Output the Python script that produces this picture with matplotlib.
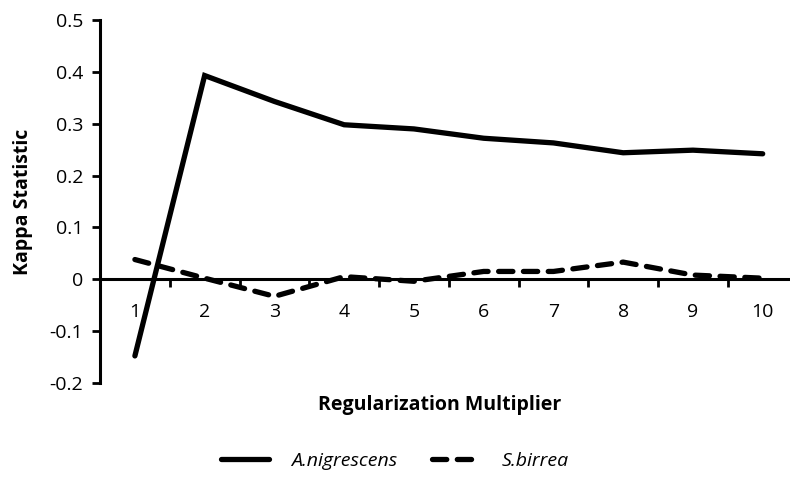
import matplotlib
matplotlib.use('Agg')
import matplotlib.pyplot as plt
import numpy as np

plt.rcParams['font.family'] = ['Open Sans', 'DejaVu Sans']

multipliers = [1, 2, 3, 4, 5, 6, 7, 8, 9, 10]
a_nigrescens = [-0.148, 0.393, 0.343, 0.298, 0.290, 0.272, 0.263, 0.244, 0.249, 0.242]
s_birrea = [0.038, 0.002, -0.033, 0.005, -0.004, 0.015, 0.015, 0.033, 0.008, 0.002]
yticks = [-0.2, -0.1, 0, 0.1, 0.2, 0.3, 0.4, 0.5]

fig = plt.figure(figsize=(7.9, 4.78), dpi=100)
ax = fig.add_axes([0.1266, 0.199, 0.883, 0.759])

x = np.arange(len(multipliers)) + 1
ax.plot(x, a_nigrescens, color='black', lw=3.8, solid_capstyle='round',
        solid_joinstyle='miter', label='A.nigrescens')
ax.plot(x, s_birrea, color='black', lw=3.8, ls=(0, (2.7, 2.0)),
        dash_capstyle='round', label='S.birrea')

ax.set_xlim(0.5, len(multipliers) + 0.5)
ax.set_ylim(-0.2, 0.5)

# y axis
ax.set_yticks(yticks)
ax.set_yticklabels(['0' if v == 0 else f'{v:.1f}' for v in yticks])
ax.tick_params(axis='y', direction='out', length=6, width=2, labelsize=14, pad=6)

# category axis drawn along y = 0
ax.spines['bottom'].set_position(('data', 0))
ax.spines['top'].set_visible(False)
ax.spines['right'].set_visible(False)
ax.spines['left'].set_linewidth(2.2)
ax.spines['bottom'].set_linewidth(2.2)
ax.set_xticks(np.arange(1.5, len(multipliers), 1))
ax.set_xticklabels([])
ax.tick_params(axis='x', which='major', direction='out', length=6, width=2)
ax.set_xticks(x, minor=True)
ax.set_xticklabels([str(m) for m in multipliers], minor=True)
ax.tick_params(axis='x', which='minor', length=0, labelsize=14, pad=17)

ax.set_ylabel('Kappa Statistic', fontsize=14, fontweight='bold', labelpad=12)
fig.text(0.557, 0.152, 'Regularization Multiplier', fontsize=14,
         fontweight='bold', ha='center', va='center')

leg = fig.legend(loc='center', bbox_to_anchor=(0.5, 0.035), ncol=2, frameon=False,
                 fontsize=14, handlelength=2.5, columnspacing=1.8, handletextpad=1.1)
for t in leg.get_texts():
    t.set_fontstyle('italic')

fig.savefig('out.png', dpi=100)
